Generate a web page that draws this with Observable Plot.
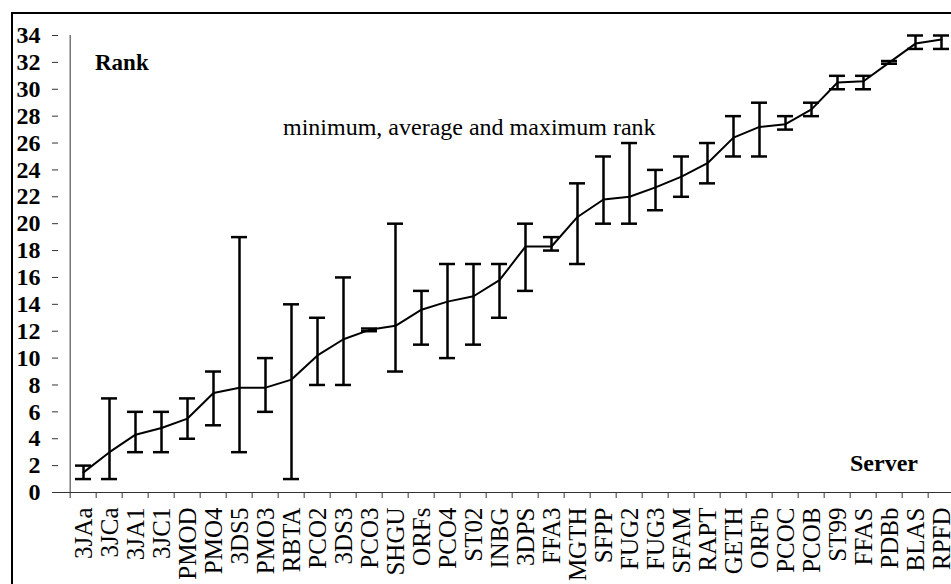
<!DOCTYPE html>
<html><head><meta charset="utf-8">
<script src="https://cdn.jsdelivr.net/npm/d3@7"></script>
<script src="https://cdn.jsdelivr.net/npm/@observablehq/plot@0.6"></script>
<style>
html,body{margin:0;padding:0;background:#fff;width:951px;height:584px;overflow:hidden;}
#wrap{position:relative;width:951px;height:584px;overflow:hidden;background:#fff;}
#chart{position:absolute;left:0;top:0;width:980px;}
#chart svg{max-width:none !important;width:980px !important;height:584px !important;background:transparent !important;}
#border{position:absolute;left:11px;top:12px;width:1000px;height:700px;border-left:2px solid #000;border-top:2px solid #000;pointer-events:none;}
.lbl{position:absolute;font-family:"Liberation Serif","Times New Roman",serif;line-height:1;white-space:nowrap;color:#000;}
</style></head><body>
<div id="wrap">
  <div id="chart"></div>
  <div id="border"></div>
  <div class="lbl" style="left:95px;top:51px;font-size:23px;font-weight:bold">Rank</div>
  <div class="lbl" style="left:283px;top:115px;font-size:24px;">minimum, average and maximum rank</div>
  <div class="lbl" style="left:850px;top:451px;font-size:24px;font-weight:bold">Server</div>
</div>
<script>
const servers = ["3JAa","3JCa","3JA1","3JC1","PMOD","PMO4","3DS5","PMO3","RBTA","PCO2","3DS3","PCO3","SHGU","ORFs","PCO4","ST02","INBG","3DPS","FFA3","MGTH","SFPP","FUG2","FUG3","SFAM","RAPT","GETH","ORFb","PCOC","PCOB","ST99","FFAS","PDBb","BLAS","RPFD"];
const minRank = [1,1,3,3,4,5,3,6,1,8,8,12,9,11,10,11,13,15,18,17,20,20,21,22,23,25,25,27,28,30,30,31.9,33,33];
const avgRank = [1.5,3.0,4.3,4.8,5.5,7.4,7.8,7.8,8.4,10.2,11.4,12.1,12.4,13.6,14.2,14.6,15.8,18.3,18.3,20.5,21.8,22.0,22.7,23.5,24.5,26.4,27.2,27.4,28.5,30.5,30.6,32.0,33.4,33.7];
const maxRank = [2,7,6,6,7,9,19,10,14,13,16,12.2,20,15,17,17,17,20,19,23,25,26,24,25,26,28,29,28,29,31,31,32.1,34,34];
const yTicks = [0,2,4,6,8,10,12,14,16,18,20,22,24,26,28,30,32,34];

const data = servers.map((s, i) => ({server: s, min: minRank[i], avg: avgRank[i], max: maxRank[i]}));

const W = 980, H = 584, mL = 58, mR = 15, mT = 35, mB = 92;
const bw = (W - mL - mR) / servers.length;
const font = '"Liberation Serif","Times New Roman",serif';

const chart = Plot.plot({
  width: W, height: H,
  marginLeft: mL, marginRight: mR, marginTop: mT, marginBottom: mB,
  style: {fontFamily: font, color: "#000", background: "transparent", maxWidth: "none"},
  x: {type: "band", domain: servers, padding: 0, align: 0.5},
  y: {domain: [0, 34]},
  marks: [
    Plot.axisY({ticks: yTicks, tickSize: 6, tickPadding: 12, fontSize: 24, fontWeight: "bold", fontFamily: font, label: null, stroke: "#333"}),
    Plot.axisX({tickSize: 6, tickFormat: () => "", dx: -bw / 2, label: null, stroke: "#333"}),
    Plot.axisX({tickSize: 0, tickPadding: 15, tickRotate: -90, fontSize: 25, fontFamily: font, label: null}),
    Plot.ruleX([servers[0]], {dx: -bw / 2, stroke: "#333", strokeWidth: 1}),
    Plot.ruleY([0], {stroke: "#333", strokeWidth: 1}),
    Plot.ruleX(data, {x: "server", y1: "min", y2: "max", stroke: "#000", strokeWidth: 2.5}),
    Plot.tickY(data, {x: "server", y: "max", inset: 5, stroke: "#000", strokeWidth: 2.5}),
    Plot.tickY(data, {x: "server", y: "min", inset: 5, stroke: "#000", strokeWidth: 2.5}),
    Plot.line(data, {x: "server", y: "avg", stroke: "#000", strokeWidth: 2})
  ]
});
document.getElementById("chart").appendChild(chart);
</script>
</body></html>
